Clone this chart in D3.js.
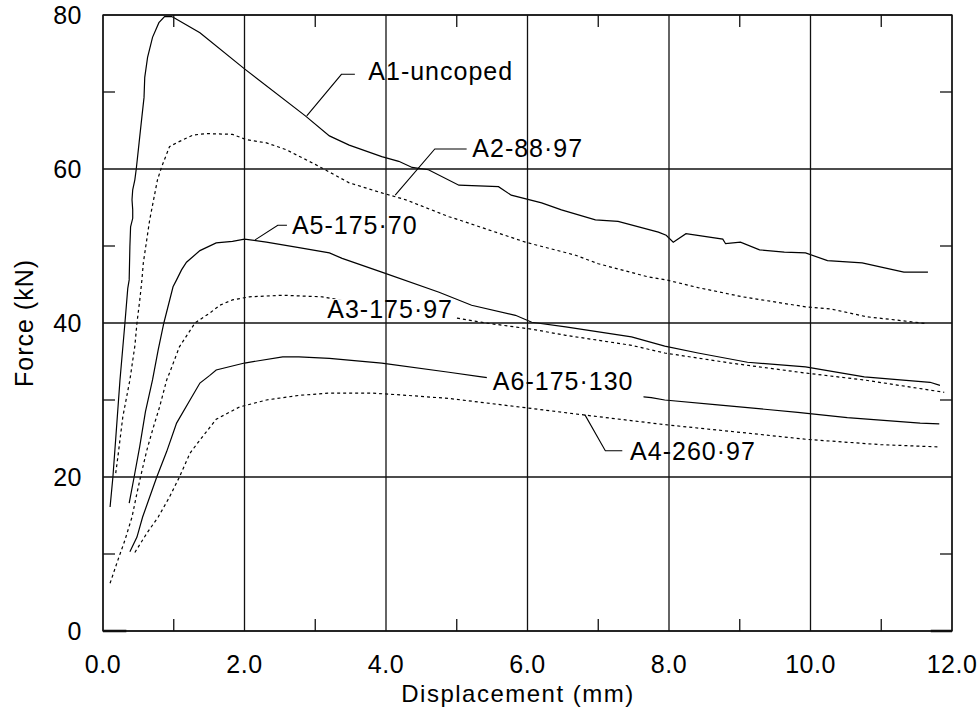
<!DOCTYPE html>
<html><head><meta charset="utf-8">
<script src="https://cdn.jsdelivr.net/npm/d3@7"></script>
<style>
html,body{margin:0;padding:0;background:#fff;}
svg text{font-family:"Liberation Sans",Arial,Helvetica,sans-serif;fill:#000;}
</style></head>
<body><svg id="chart" width="977" height="709"></svg>
<script>
// ---- data ----
const xMajorTicks = [0, 2, 4, 6, 8, 10, 12];
const xMinorTicks = [1, 3, 5, 7, 9, 11];
const yMajorTicks = [0, 20, 40, 60, 80];
const yMinorTicks = [10, 30, 50, 70];
const xTickLabels = ["0.0", "2.0", "4.0", "6.0", "8.0", "10.0", "12.0"];
const yTickLabels = ["0", "20", "40", "60", "80"];
const xTitle = "Displacement (mm)";
const yTitle = "Force (kN)";

const seriesNames = ["A1-uncoped", "A2-88·97", "A5-175·70", "A3-175·97", "A6-175·130", "A4-260·97"];
const seriesDashed = [false, true, false, true, false, true];

const a1 = [[0.10,16.1],[0.14,20],[0.18,25],[0.24,32.6],[0.31,40],[0.35,44.5],[0.37,45.6],[0.38,49.9],[0.39,52.5],[0.42,53.6],[0.42,54.7],[0.41,56.0],[0.42,57.3],[0.45,58.6],[0.47,60.0],[0.51,63.4],[0.55,66.8],[0.58,69.3],[0.59,71.9],[0.63,74.5],[0.70,77.1],[0.79,79.0],[0.87,79.8],[0.97,79.8],[1.01,79.6],[1.37,77.7],[2.0,73.0],[2.86,66.9],[3.2,64.3],[3.48,63.1],[3.94,61.6],[4.18,61.0],[4.37,60.2],[4.6,59.9],[5.03,57.9],[5.59,57.7],[5.77,56.6],[6.2,55.6],[6.48,54.7],[6.96,53.4],[7.28,53.2],[7.85,51.8],[7.96,51.4],[8.06,50.5],[8.24,51.6],[8.76,50.9],[8.8,50.3],[9.01,50.5],[9.28,49.5],[9.63,49.2],[9.93,49.1],[10.24,48.1],[10.73,47.8],[11.08,47.1],[11.32,46.6],[11.66,46.6]];
const a2 = [[0.18,20.5],[0.21,22.6],[0.28,27.8],[0.38,32.6],[0.45,37.0],[0.48,40.0],[0.52,43.0],[0.55,45.6],[0.57,47.8],[0.66,53.4],[0.77,58.6],[0.83,60.3],[0.94,62.9],[1.04,63.4],[1.27,64.4],[1.46,64.6],[1.83,64.5],[2.03,63.8],[2.31,63.4],[2.59,62.5],[3.0,60.6],[3.48,58.2],[3.94,56.9],[4.28,56.0],[4.89,53.8],[5.03,53.4],[5.45,52.1],[5.97,50.5],[6.68,48.8],[7.0,47.7],[7.7,46.0],[7.96,45.6],[8.41,44.6],[9.04,43.4],[9.93,42.1],[10.3,41.8],[10.8,40.8],[11.2,40.4],[11.65,39.9]];
const a5 = [[0.37,16.6],[0.44,20],[0.52,24],[0.60,28.5],[0.70,32.6],[0.78,36.5],[0.86,40],[0.99,44.7],[1.04,45.6],[1.11,46.9],[1.18,47.9],[1.37,49.4],[1.6,50.4],[1.83,50.6],[2.0,50.9],[2.31,50.5],[2.77,49.8],[3.2,49.1],[3.38,48.4],[3.94,46.6],[4.75,44.0],[5.21,42.3],[5.83,41.0],[6.06,40.1],[6.54,39.5],[7.47,38.2],[7.94,37.0],[8.41,36.1],[9.11,34.9],[9.93,34.3],[10.76,33.0],[11.69,32.3],[11.83,31.9]];
const a3 = [[0.10,6.2],[0.21,9.2],[0.31,11.8],[0.41,14.8],[0.48,17.9],[0.53,20],[0.62,23.5],[0.71,26.4],[0.80,29.1],[0.90,32.6],[0.94,33.5],[1.08,36.9],[1.3,40],[1.51,41.3],[1.65,42.3],[1.83,43.0],[2.07,43.4],[2.54,43.6],[3.1,43.4],[3.6,42.6],[4.2,41.8],[4.6,41.2],[5.03,40.6],[5.41,40.0],[6.06,39.2],[6.54,38.4],[7.47,37.1],[7.94,36.1],[8.87,34.8],[9.93,33.5],[10.76,32.6],[11.89,31.0]];
const a6 = [[0.38,10.3],[0.48,12.2],[0.56,14.8],[0.66,17.4],[0.76,20],[0.9,23.3],[1.04,27.0],[1.23,30.0],[1.37,32.2],[1.51,33.2],[1.6,33.9],[2.0,34.8],[2.54,35.6],[2.77,35.6],[3.2,35.4],[3.94,34.8],[4.89,33.6],[5.35,33.0],[6.2,32.0],[7.0,31.0],[7.75,30.3],[7.94,30.0],[8.65,29.4],[9.82,28.4],[10.52,27.7],[11.55,27.0],[11.82,26.9]];
const a4 = [[0.45,10.2],[0.62,12.7],[0.78,14.8],[0.94,17.4],[1.08,20],[1.23,23.1],[1.37,24.8],[1.6,27.5],[1.93,29.1],[2.31,30.0],[2.77,30.6],[3.2,30.9],[3.8,30.9],[4.3,30.6],[4.89,30.2],[5.97,29.0],[6.76,28.1],[7.94,26.8],[9.11,25.7],[9.93,24.9],[10.99,24.2],[11.83,23.9]];
const seriesValues = [a1, a2, a5, a3, a6, a4];

// short segments lying on the zero line
const zeroSegments = [[[0, 0], [0.33, 0]], [[11.7, 0], [12, 0]]];

// label anchors (data units) and leader polylines
const labelPos = [[3.75, 72.7], [5.22, 62.7], [2.67, 52.7], [3.17, 41.8], [5.51, 32.5], [7.45, 23.4]];
const leaders = [
  [[2.88, 66.9], [3.37, 72.3], [3.56, 72.3]],
  [[4.13, 56.6], [4.69, 62.6], [5.14, 62.6]],
  [[2.15, 50.8], [2.47, 52.7], [2.60, 52.7]],
  null,
  null,
  [[6.81, 28.1], [7.10, 23.4], [7.34, 23.4]]
];
const labelMasked = [false, false, false, true, true, false];

// ---- layout ----
const W = 977, H = 709;
const M = {left: 103, right: 952, top: 15, bottom: 631};
const FS = 25;

const svg = d3.select("#chart");
svg.append("rect").attr("width", W).attr("height", H).attr("fill", "#fff");

const x = d3.scaleLinear().domain([0, 12]).range([M.left, M.right]);
const y = d3.scaleLinear().domain([0, 80]).range([M.bottom, M.top]);

const line = d3.line().x(d => x(d[0])).y(d => y(d[1]));

const defs = svg.append("defs");
const mask = defs.append("mask").attr("id", "lblmask").attr("maskUnits", "userSpaceOnUse")
  .attr("x", 0).attr("y", 0).attr("width", W).attr("height", H);
mask.append("rect").attr("width", W).attr("height", H).attr("fill", "#fff");

// curves
const curves = svg.append("g").attr("mask", "url(#lblmask)");
seriesValues.forEach((vals, i) => {
  curves.append("path").datum(vals)
    .attr("d", line)
    .attr("fill", "none")
    .attr("stroke", "#000")
    .attr("stroke-width", 1.2)
    .attr("stroke-dasharray", seriesDashed[i] ? "3,3" : null);
});
zeroSegments.forEach(seg => {
  svg.append("path").datum(seg).attr("d", line)
    .attr("fill", "none").attr("stroke", "#000").attr("stroke-width", 2.5);
});

// grid
const grid = svg.append("g").attr("stroke", "#111").attr("stroke-width", 1.3);
xMajorTicks.forEach(t => grid.append("line")
  .attr("x1", x(t)).attr("x2", x(t)).attr("y1", M.top).attr("y2", M.bottom));
yMajorTicks.forEach(t => grid.append("line")
  .attr("y1", y(t)).attr("y2", y(t)).attr("x1", M.left).attr("x2", M.right));
grid.append("rect").attr("x", M.left).attr("y", M.top)
  .attr("width", M.right - M.left).attr("height", M.bottom - M.top).attr("fill", "none");
const TL = 12;
xMinorTicks.forEach(t => {
  grid.append("line").attr("x1", x(t)).attr("x2", x(t)).attr("y1", M.bottom).attr("y2", M.bottom - TL);
  grid.append("line").attr("x1", x(t)).attr("x2", x(t)).attr("y1", M.top).attr("y2", M.top + TL);
});
yMinorTicks.forEach(t => {
  grid.append("line").attr("y1", y(t)).attr("y2", y(t)).attr("x1", M.left).attr("x2", M.left + TL);
  grid.append("line").attr("y1", y(t)).attr("y2", y(t)).attr("x1", M.right).attr("x2", M.right - TL);
});

// tick labels
const tl = svg.append("g").attr("font-size", FS).attr("letter-spacing", "0.5px");
xMajorTicks.forEach((t, i) => tl.append("text")
  .attr("x", x(t)).attr("y", 673).attr("text-anchor", "middle").text(xTickLabels[i]));
yMajorTicks.forEach((t, i) => tl.append("text")
  .attr("x", M.left - 21).attr("y", y(t)).attr("dy", "0.36em").attr("text-anchor", "end").text(yTickLabels[i]));

// axis titles
svg.append("text").attr("x", 518).attr("y", 702).attr("text-anchor", "middle")
  .attr("font-size", 24).attr("letter-spacing", "1.5px").text(xTitle);
svg.append("text").attr("transform", "translate(33,323) rotate(-90)").attr("text-anchor", "middle")
  .attr("font-size", FS).attr("letter-spacing", "1px").text(yTitle);

// leaders
leaders.forEach(l => {
  if (!l) return;
  svg.append("path").datum(l).attr("d", line).attr("fill", "none")
    .attr("stroke", "#000").attr("stroke-width", 1.1);
});

// series labels
seriesNames.forEach((name, i) => {
  const t = svg.append("text")
    .attr("x", x(labelPos[i][0])).attr("y", y(labelPos[i][1])).attr("dy", "0.36em")
    .attr("font-size", FS).attr("letter-spacing", "1px").text(name);
  if (labelMasked[i]) {
    const b = t.node().getBBox();
    const cy = y(labelPos[i][1]);
    const padL = i === 4 ? 6 : 2, padR = i === 4 ? 10 : 2, padB = i === 4 ? 18 : 14;
    mask.append("rect").attr("x", b.x - padL).attr("y", cy - 10)
      .attr("width", b.width + padL + padR).attr("height", 10 + padB).attr("fill", "#000");
  }
});
</script></body></html>
